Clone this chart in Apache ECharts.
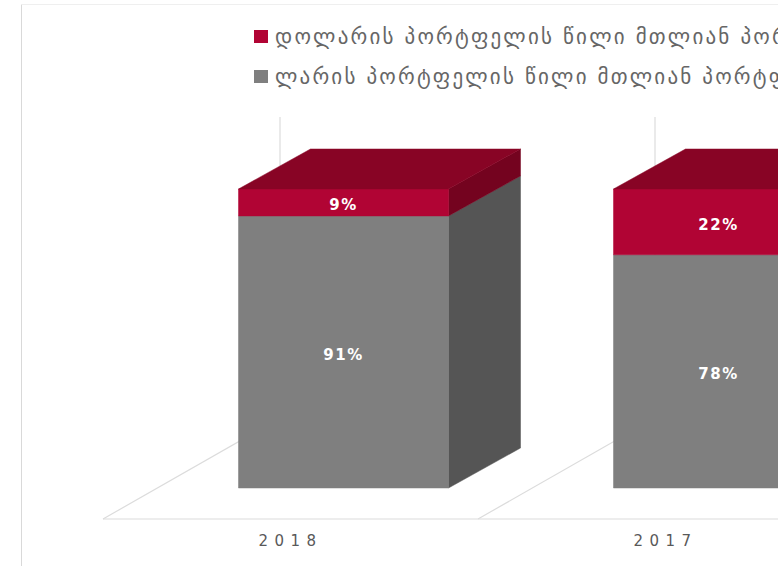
<!DOCTYPE html>
<html>
<head>
<meta charset="utf-8">
<script src="https://cdn.jsdelivr.net/npm/echarts@6/dist/echarts.min.js"></script>
<style>
html,body{margin:0;padding:0;background:#fff;overflow:hidden}
#chart{width:778px;height:566px}
/* tracking per text role: legend, axis years, value labels */
#chart text{letter-spacing:2.2px}
#chart text[style*="15px"]{letter-spacing:6.4px}
#chart text[style*="bold"]{letter-spacing:1.5px}
</style>
</head>
<body>
<div id="chart"></div>
<script>
const years = ['2018', '2017'];
const usdShare = [9, 22];
const gelShare = [91, 78];
const usdName = 'დოლარის პორტფელის წილი მთლიან პორტფელში';
const gelName = 'ლარის პორტფელის წილი მთლიან პორტფელში';

// Oblique projection of the 3D columns, in pixels
const FLOOR_RISE = 31;      // column base sits this far above the floor's front edge
const WALL_DX = 177;        // floor corner to the back wall
const WALL_DY = 101;
const COL_SHIFT = 53;       // column offset from the band centre
const COL_DX = 72;          // column depth
const COL_DY = 40;
const COL_RATIO = 0.56;     // column width against the band

const poly = (points, fill) => ({
  type: 'polygon', shape: { points }, silent: true,
  style: { fill, stroke: fill, lineWidth: 0.5 }
});

function columnRenderer(front, top, side, isTop) {
  return function (params, api) {
    const i = api.value(0);
    const base = api.value(2);
    const v = api.value(1);
    const band = api.size([1, 0])[0];
    const w = band * COL_RATIO;
    const lo = api.coord([i, base]);
    const hi = api.coord([i, base + v]);
    const l = lo[0] + COL_SHIFT - w / 2;
    const r = l + w;
    const children = [
      poly([[r, hi[1]], [r + COL_DX, hi[1] - COL_DY], [r + COL_DX, lo[1] - COL_DY], [r, lo[1]]], side),
      poly([[l, hi[1]], [r, hi[1]], [r, lo[1]], [l, lo[1]]], front)
    ];
    if (isTop) {
      children.push(poly([[l, hi[1]], [l + COL_DX, hi[1] - COL_DY], [r + COL_DX, hi[1] - COL_DY], [r, hi[1]]], top));
    }
    children.push({
      type: 'text',
      silent: true,
      style: {
        x: (l + r) / 2,
        y: (lo[1] + hi[1]) / 2 + 3,
        text: v + '%',
        fill: '#ffffff',
        font: 'bold 15px "DejaVu Sans"',
        align: 'center',
        verticalAlign: 'middle'
      }
    });
    return { type: 'group', children };
  };
}

function floorRenderer(params, api) {
  const i = api.value(0);
  const band = api.size([1, 0])[0];
  const lo = api.coord([i, 0]);
  const hi = api.coord([i, 100]);
  const x0 = lo[0] - band / 2;
  const y0 = lo[1] + FLOOR_RISE;
  const stroke = { stroke: '#dcdcdc', lineWidth: 1.2, fill: null };
  return {
    type: 'group',
    children: [
      { type: 'line', silent: true, style: stroke,
        shape: { x1: x0, y1: y0, x2: x0 + band, y2: y0 } },
      { type: 'line', silent: true, style: stroke,
        shape: { x1: x0, y1: y0, x2: x0 + WALL_DX, y2: y0 - WALL_DY } },
      { type: 'line', silent: true, style: stroke,
        shape: { x1: x0 + WALL_DX, y1: y0 - WALL_DY, x2: x0 + WALL_DX, y2: hi[1] + FLOOR_RISE - WALL_DY - 2 } }
    ]
  };
}

const chart = echarts.init(document.getElementById('chart'), null, { renderer: 'svg' });
chart.setOption({
  animation: false,
  backgroundColor: '#ffffff',
  graphic: [
    { type: 'line', silent: true, shape: { x1: 21.5, y1: 4.5, x2: 21.5, y2: 566 }, style: { stroke: '#d9d9d9', lineWidth: 1 } },
    { type: 'line', silent: true, shape: { x1: 21.5, y1: 4.5, x2: 778, y2: 4.5 }, style: { stroke: '#efefef', lineWidth: 1 } }
  ],
  legend: {
    left: 254,
    top: 26,
    padding: 0,
    orient: 'vertical',
    itemWidth: 14,
    itemHeight: 13,
    itemGap: 19,
    icon: 'rect',
    data: [usdName, gelName],
    textStyle: { color: '#666666', fontSize: 21, fontFamily: 'DejaVu Sans', padding: [0, 0, 0, 2], lineHeight: 19 }
  },
  grid: { left: 103, width: 750, top: 189, height: 299, outerBoundsMode: 'none' },
  xAxis: {
    type: 'category',
    data: years,
    axisTick: { show: false },
    axisLine: { show: false },
    axisLabel: {
      margin: 45,
      color: '#595959',
      fontSize: 15,
      fontFamily: 'DejaVu Sans'
    }
  },
  yAxis: { type: 'value', min: 0, max: 100, show: false },
  series: [
    {
      type: 'custom',
      name: 'floor',
      renderItem: floorRenderer,
      encode: { x: 0, y: 1 },
      data: years.map((_, i) => [i, 0]),
      z: 1
    },
    {
      type: 'custom',
      name: gelName,
      itemStyle: { color: '#7f7f7f' },
      renderItem: columnRenderer('#7f7f7f', '#666666', '#555555', false),
      encode: { x: 0, y: 1 },
      data: years.map((_, i) => [i, gelShare[i], 0]),
      z: 2
    },
    {
      type: 'custom',
      name: usdName,
      itemStyle: { color: '#b10434' },
      renderItem: columnRenderer('#b10434', '#880425', '#74031f', true),
      encode: { x: 0, y: 1 },
      data: years.map((_, i) => [i, usdShare[i], gelShare[i]]),
      z: 3
    }
  ]
});
</script>
</body>
</html>
